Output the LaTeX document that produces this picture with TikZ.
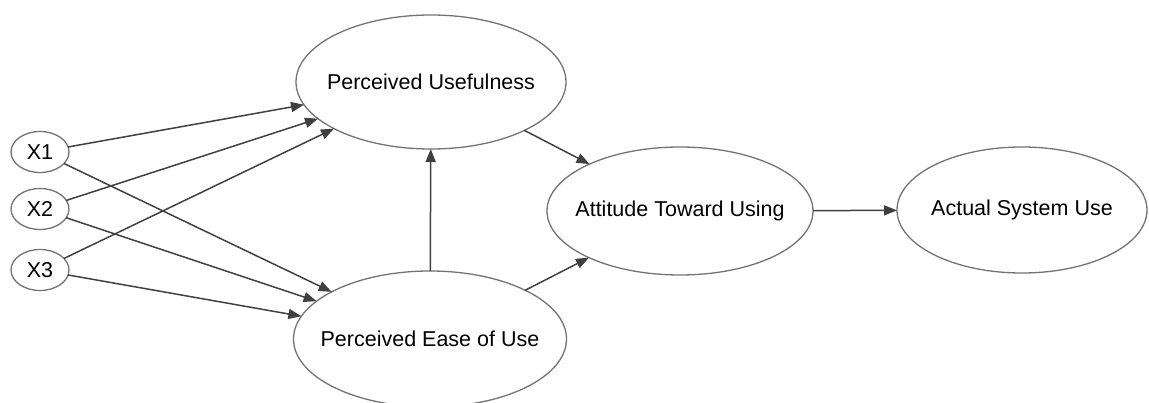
\documentclass[tikz,border=0pt]{standalone}
\usepackage{fontspec}
\setmainfont{Liberation Sans}
\usetikzlibrary{shapes.geometric, arrows.meta}

\newcommand{\ctext}[1]{\makebox[0pt]{#1}}

\begin{document}
\begin{tikzpicture}[
    x=1pt, y=-1pt,
    >={Triangle[length=13pt, width=10pt]},
    every node/.style={font=\fontsize{21.5}{24}\selectfont},
    construct/.style={ellipse, draw=black!55, line width=1.3pt, fill=white, inner sep=0pt, outer sep=0pt},
    item/.style={construct, minimum width=58pt, minimum height=41pt},
    link/.style={->, draw=black!75, line width=1.5pt}
]
    \useasboundingbox (0,0) rectangle (1149,403);

    % Constructs
    \node[construct, minimum width=270pt, minimum height=134pt] (pu) at (431,82) {\ctext{Perceived Usefulness}};
    \node[construct, minimum width=273pt, minimum height=136pt] (peu) at (430,339) {\ctext{Perceived Ease of Use}};
    \node[construct, minimum width=266pt, minimum height=128pt] (atu) at (680,211) {\ctext{Attitude Toward Using}};
    \node[construct, minimum width=250pt, minimum height=126pt] (asu) at (1022,210) {\ctext{Actual System Use}};

    % External variables
    \node[item] (x1) at (40,152) {\ctext{X1}};
    \node[item] (x2) at (40,209) {\ctext{X2}};
    \node[item] (x3) at (40,270) {\ctext{X3}};

    % Paths
    \foreach \x in {x1, x2, x3} {
        \draw[link] (\x) -- (pu);
        \draw[link] (\x) -- (peu);
    }
    \draw[link] (peu) -- (pu);
    \draw[link] (pu) -- (atu);
    \draw[link] (peu) -- (atu);
    \draw[link] (atu) -- (asu);

\end{tikzpicture}
\end{document}
